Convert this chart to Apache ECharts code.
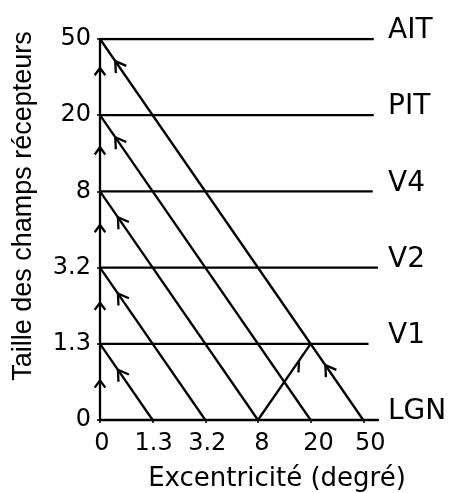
<!DOCTYPE html>
<html>
<head>
<meta charset="utf-8">
<script src="https://cdn.jsdelivr.net/npm/echarts@6/dist/echarts.min.js"></script>
<style>html,body{margin:0;padding:0;background:#fff}#c{width:456px;height:493px}</style>
</head>
<body>
<div id="c"></div>
<script>
// ---- data ----
const xTickLabels = ['0', '1.3', '3.2', '8', '20', '50'];      // eccentricity (degrees)
const yTickLabels = ['0', '1.3', '3.2', '8', '20', '50'];      // receptive field size
const areaNames   = ['LGN', 'V1', 'V2', 'V4', 'PIT', 'AIT'];   // one per level
const levelLineEnds = [5.28, 5.1, 5.28, 5.18, 5.2, 5.2];       // how far each level line reaches (x index)
const diagonalLevels = [1, 2, 3, 4, 5];                        // diagonal from (0,k) down to (k,0)
const feedbackFrom = [3, 0];                                   // 8° at LGN
const feedbackTo = [4, 1];                                     // 20° at V1
const axisArrowY = [0.52, 1.54, 2.56, 3.58, 4.62];             // upward arrows on the vertical axis
const diagonalArrowX = [0.34, 0.34, 0.34, 0.29, 0.29];         // arrow position along each diagonal
const extraArrows = [[4.28, 0.72, -1, 1, 1], [3.78, 0.78, 1, 1, 2]]; // [x, y, dirX, dirY, kind]
const X_MAX = 5.28, Y_MAX = 5;

// ---- build series ----
const BLACK = '#000';
const LW = 2.3;
const series = [];
function seg(a, b) {
  series.push({
    type: 'line', data: [a, b], symbol: 'none', silent: true, animation: false,
    lineStyle: { color: BLACK, width: LW }, z: 2
  });
}
for (let k = 1; k < areaNames.length; k++) seg([0, k], [levelLineEnds[k], k]);
diagonalLevels.forEach(k => seg([0, k], [k, 0]));
seg(feedbackFrom, feedbackTo);

// arrows: [x, y, dirX, dirY, length, halfAngle, kind]
const arrowData = [];
axisArrowY.forEach(y => arrowData.push([0, y, 0, 1, 9, 36, 0]));
diagonalLevels.forEach((k, i) => arrowData.push([diagonalArrowX[i], k - diagonalArrowX[i], -1, 1, 12, 32, 0]));
extraArrows.forEach(a => arrowData.push([a[0], a[1], a[2], a[3], 12, 32, a[4] === 2 ? 1 : 0]));

series.push({
  type: 'custom', silent: true, animation: false, z: 3,
  data: arrowData,
  encode: { x: 0, y: 1 },
  renderItem: function (params, api) {
    const x = api.value(0), y = api.value(1);
    const tip = api.coord([x, y]);
    const back = api.coord([x - api.value(2) * 0.1, y - api.value(3) * 0.1]);
    const ang = Math.atan2(back[1] - tip[1], back[0] - tip[0]);
    const L = api.value(4), h = api.value(5) * Math.PI / 180;
    const p1 = [tip[0] + L * Math.cos(ang + h), tip[1] + L * Math.sin(ang + h)];
    const p2 = [tip[0] + L * Math.cos(ang - h), tip[1] + L * Math.sin(ang - h)];
    const pts = api.value(6) === 1 ? [tip, p2] : [p1, tip, p2];
    return { type: 'polyline', shape: { points: pts }, style: { stroke: BLACK, lineWidth: LW, fill: null } };
  }
});

const tickFont = { color: BLACK, fontSize: 24, fontFamily: 'DejaVu Sans' };
function idxLabel(list, rich) {
  return function (v) {
    const i = Math.round(v);
    if (Math.abs(v - i) > 1e-6 || list[i] === undefined) return '';
    return rich ? '{r' + i + '|' + list[i] + '}' : list[i];
  };
}
const xShift = [2, 1, 2, 4, 8, 7];
const xRich = {};
xShift.forEach((s, i) => { xRich['r' + i] = Object.assign({ padding: [0, 0, 0, 2 * s] }, tickFont); });

const option = {
  animation: false,
  backgroundColor: '#fff',
  grid: { left: 100, right: 78, top: 39, bottom: 73, containLabel: false },
  xAxis: {
    type: 'value', min: 0, max: X_MAX, interval: 1,
    axisLine: { lineStyle: { color: BLACK, width: LW } },
    axisTick: { show: true, length: 3, lineStyle: { color: BLACK, width: 1.5 } },
    splitLine: { show: false },
    axisLabel: Object.assign({ margin: 12, formatter: idxLabel(xTickLabels, true), showMaxLabel: false, rich: xRich }, tickFont)
  },
  yAxis: [{
    type: 'value', min: 0, max: Y_MAX, interval: 1,
    axisLine: { show: true, lineStyle: { color: BLACK, width: LW } },
    axisTick: { show: true, length: 3, lineStyle: { color: BLACK, width: 1.5 } },
    splitLine: { show: false },
    axisLabel: Object.assign({ margin: 9, formatter: idxLabel(yTickLabels, false) }, tickFont)
  }, {
    type: 'value', min: 0, max: Y_MAX, interval: 1, position: 'right',
    axisLine: { show: false }, axisTick: { show: false }, splitLine: { show: false },
    axisLabel: {
      margin: 10, formatter: idxLabel(areaNames, false), color: BLACK,
      fontSize: 28, fontFamily: 'DejaVu Sans', verticalAlign: 'bottom', lineHeight: 16
    }
  }],
  graphic: [
    { type: 'text', x: 24, y: 206, rotation: Math.PI / 2, silent: true,
      style: { text: 'Taille des champs récepteurs', font: '27px "Liberation Sans"', align: 'center', verticalAlign: 'middle', fill: BLACK } },
    { type: 'text', x: 277, y: 479, silent: true,
      style: { text: 'Excentricité (degré)', font: '26px "DejaVu Sans"', align: 'center', verticalAlign: 'middle', fill: BLACK } }
  ],
  series: series
};

const chart = echarts.init(document.getElementById('c'), null, { renderer: 'canvas' });
chart.setOption(option);
</script>
</body>
</html>
